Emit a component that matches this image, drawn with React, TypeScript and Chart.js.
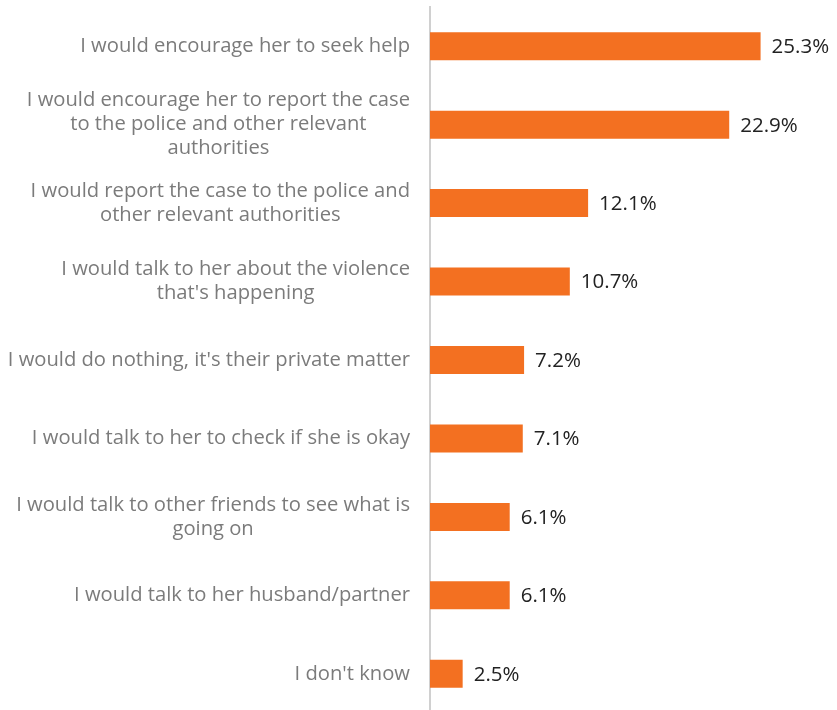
import React, { useEffect, useRef } from "react";
import { Chart, registerables } from "chart.js";

Chart.register(...registerables);

const categories: string[][] = [
  ["I would encourage her to seek help"],
  ["I would encourage her to report the case", "to the police and other relevant", "authorities"],
  ["I would report the case to the police and", "other relevant authorities"],
  ["I would talk to her about the violence", "that's happening"],
  ["I would do nothing, it's their private matter"],
  ["I would talk to her to check if she is okay"],
  ["I would talk to other friends to see what is", "going on"],
  ["I would talk to her husband/partner"],
  ["I don't know"],
];

const values: number[] = [25.3, 22.9, 12.1, 10.7, 7.2, 7.1, 6.1, 6.1, 2.5];

const BAR_COLOR = "#F37021";
const LABEL_COLOR = "#7b7b7b";
const VALUE_COLOR = "#222222";
const FONT_FAMILY = "'Open Sans', 'Noto Sans', sans-serif";

const labelPlugin = {
  id: "customLabels",
  afterDatasetsDraw(chart: any) {
    const ctx = chart.ctx;
    const yScale = chart.scales.y;
    const labels = chart.data.labels as string[][];
    ctx.save();
    ctx.font = `20.2px ${FONT_FAMILY}`;
    ctx.fillStyle = LABEL_COLOR;
    ctx.textBaseline = "middle";
    ctx.textAlign = "center";
    const rightEdge = 410;
    const lineH = 24;
    labels.forEach((lines, i) => {
      const yc = yScale.getPixelForTick(i);
      const widths = lines.map((l) => ctx.measureText(l).width);
      const blockW = Math.max(...widths);
      const cx = rightEdge - blockW / 2;
      const n = lines.length;
      lines.forEach((l, j) => {
        const y = yc + (j - (n - 1) / 2) * lineH;
        ctx.fillText(l, cx, y);
      });
    });
    const meta = chart.getDatasetMeta(0);
    ctx.font = `20.5px ${FONT_FAMILY}`;
    ctx.fillStyle = VALUE_COLOR;
    ctx.textAlign = "left";
    meta.data.forEach((bar: any, i: number) => {
      const v = chart.data.datasets[0].data[i] as number;
      ctx.fillText(v.toFixed(1) + "%", bar.x + 11, bar.y + 1);
    });
    ctx.restore();
  },
};

export default function App() {
  const canvasRef = useRef<HTMLCanvasElement | null>(null);

  useEffect(() => {
    if (!canvasRef.current) return;
    const chart = new Chart(canvasRef.current, {
      type: "bar",
      data: {
        labels: categories as any,
        datasets: [
          {
            data: values,
            backgroundColor: BAR_COLOR,
            borderWidth: 0,
            barPercentage: 0.357,
            categoryPercentage: 1,
          },
        ],
      },
      options: {
        indexAxis: "y",
        animation: false,
        responsive: false,
        maintainAspectRatio: false,
        layout: { padding: { top: 7, right: 15, bottom: 0, left: 0 } },
        plugins: {
          legend: { display: false },
          tooltip: { enabled: false },
        },
        scales: {
          x: {
            display: false,
            min: 0,
            max: 30,
          },
          y: {
            grid: { display: false, drawTicks: false },
            border: { display: true, color: "#d0d0d0", width: 2 },
            ticks: { display: false },
            afterFit(scale: any) {
              scale.width = 430;
            },
          },
        },
      },
      plugins: [labelPlugin],
    });
    return () => chart.destroy();
  }, []);

  return (
    <div style={{ position: "fixed", left: 0, top: 0, width: 837, height: 713, background: "#fff" }}>
      <canvas ref={canvasRef} width={837} height={713} style={{ display: "block" }} />
    </div>
  );
}
